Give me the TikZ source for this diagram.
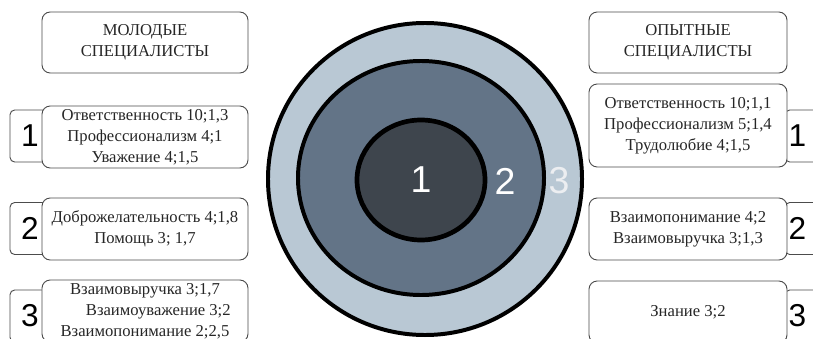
\documentclass[tikz,border=0pt]{standalone}
\usepackage{fontspec}
\setmainfont{Liberation Serif}
\setsansfont{Liberation Sans}
\usetikzlibrary{shapes.geometric, positioning}
\definecolor{ringout}{HTML}{B9C8D4}
\definecolor{ringmid}{HTML}{637487}
\definecolor{ringin}{HTML}{3E454D}
\tikzset{
  % scatola con testo
  box/.style={draw=black!70, line width=0.8pt, rounded corners=7pt, fill=white,
    minimum width=6.18cm, minimum height=1.86cm, align=center, inner sep=2pt,
    font=\fontsize{14.2}{17.8}\selectfont, text=black!85},
  % riquadro del numero
  numbox/.style={draw=black!70, line width=0.8pt, rounded corners=4pt, fill=white,
    minimum width=1.2cm, minimum height=1.56cm, font=\sffamily\fontsize{27}{27}\selectfont},
  % anelli
  ring/.style={ellipse, draw=black, line width=3.4pt, inner sep=0pt},
  ringlbl/.style={font=\sffamily\fontsize{32}{32}\selectfont, text=white},
}
\begin{document}
\begin{tikzpicture}[x=0.03cm, y=-0.03cm]
  \clip (0,0) rectangle (813,339);
  \fill[white] (0,0) rectangle (813,339);
  % anelli
  \node[ring, fill=ringout, minimum width=9.42cm, minimum height=9.36cm] (r3) at (425,179) {};
  \node[ring, fill=ringmid, minimum width=7.38cm, minimum height=7.02cm] (r2) at (421,178) {};
  \node[ring, fill=ringin, line width=4pt, minimum width=3.84cm, minimum height=3.6cm] (r1) at (421,180) {};
  \node[ringlbl] (l1) at (r1) {1};
  \node[ringlbl] (l2) at (505,181) {2};
  \node[ringlbl, text=white!88!ringmid] (l3) at (559,181) {3};
  % sinistra
  \node[box, minimum height=1.83cm] (tl) at (145,42.5) {МОЛОДЫЕ\\СПЕЦИАЛИСТЫ};
  \node[numbox] (nl1) at (30,136) {1};
  \node[numbox] (nl2) at (30,228.5) {2};
  \node[numbox] (nl3) at (30,316) {3};
  \node[box] (bl1) at (145,137) {Ответственность 10;1,3\\Профессионализм 4;1\\Уважение 4;1,5};
  \node[box] (bl2) at (145,229) {Доброжелательность 4;1,8\\Помощь 3; 1,7};
  \node[box] (bl3) at (145,311) {Взаимовыручка 3;1,7\\\hspace{1.6em}Взаимоуважение 3;2\\Взаимопонимание 2;2,5};
  % destra
  \node[box, minimum width=5.94cm, minimum height=1.83cm] (tr) at (688,42.5) {ОПЫТНЫЕ\\СПЕЦИАЛИСТЫ};
  \node[numbox] (nr1) at (805,136) {\hspace{-0.45cm}1};
  \node[numbox] (nr2) at (805,228.5) {\hspace{-0.45cm}2};
  \node[numbox] (nr3) at (805,316) {\hspace{-0.45cm}3};
  \node[box, minimum width=5.94cm, minimum height=2.49cm] (br1) at (688,125.5) {Ответственность 10;1,1\\Профессионализм 5;1,4\\Трудолюбие 4;1,5};
  \node[box, minimum width=5.94cm] (br2) at (688,229) {Взаимопонимание 4;2\\Взаимовыручка 3;1,3};
  \node[box, minimum width=5.94cm] (br3) at (688,312) {Знание 3;2};
\end{tikzpicture}
\end{document}
